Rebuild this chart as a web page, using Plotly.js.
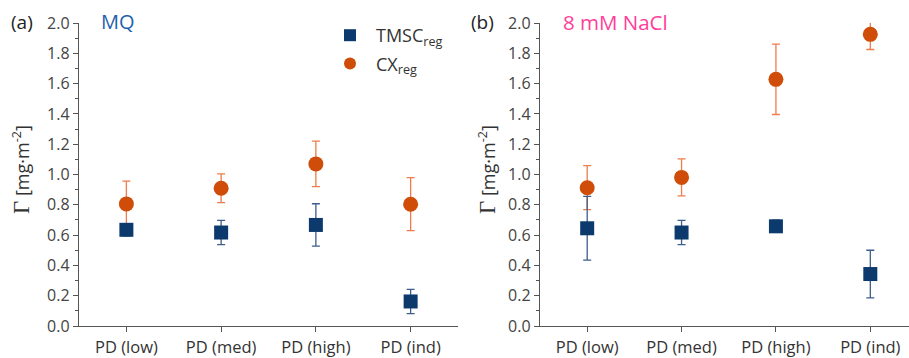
<!DOCTYPE html>
<html>
<head>
<meta charset="utf-8">
<script src="https://cdn.plot.ly/plotly-3.0.1.min.js"></script>
<style>html,body{margin:0;padding:0;background:#fff}#plot{width:909px;height:358px}</style>
</head>
<body>
<div id="plot"></div>
<script>
const categories = ['PD (low)', 'PD (med)', 'PD (high)', 'PD (ind)'];
const tmscMQ = [0.635, 0.617, 0.667, 0.162];
const tmscMQErr = [0.04, 0.08, 0.14, 0.08];
const cxMQ = [0.806, 0.909, 1.07, 0.804];
const cxMQErr = [0.15, 0.095, 0.15, 0.175];
const tmscNaCl = [0.645, 0.617, 0.658, 0.343];
const tmscNaClErr = [0.21, 0.08, 0.04, 0.157];
const cxNaCl = [0.913, 0.981, 1.628, 1.925];
const cxNaClErr = [0.145, 0.122, 0.232, 0.1];
const yTicks = [0, 0.2, 0.4, 0.6, 0.8, 1.0, 1.2, 1.4, 1.6, 1.8, 2.0];

const navy = '#0c3a6d', navyErr = '#3d5d8c';
const orange = '#cf4d08', orangeErr = '#ee7c4c';
const fontFam = '"Open Sans", "DejaVu Sans", sans-serif';

function cx(y, err, xa, ya, show) {
  return {type:'scatter', mode:'markers', x:categories, y:y, xaxis:xa, yaxis:ya, cliponaxis:false,
    name:'CX<sub>reg</sub>', showlegend:show, legendrank:2, legendgroup:'cx',
    marker:{symbol:'circle', size:15, color:orange},
    error_y:{type:'data', array:err, visible:true, color:orangeErr, thickness:1.3, width:4}};
}
function tm(y, err, xa, ya, show) {
  return {type:'scatter', mode:'markers', x:categories, y:y, xaxis:xa, yaxis:ya, cliponaxis:false,
    name:'TMSC<sub>reg</sub>', showlegend:show, legendrank:1, legendgroup:'tm',
    marker:{symbol:'square', size:14, color:navy},
    error_y:{type:'data', array:err, visible:true, color:navyErr, thickness:1.3, width:4}};
}
const data = [
  cx(cxMQ, cxMQErr, 'x', 'y', true),
  tm(tmscMQ, tmscMQErr, 'x', 'y', true),
  cx(cxNaCl, cxNaClErr, 'x2', 'y2', false),
  tm(tmscNaCl, tmscNaClErr, 'x2', 'y2', false)
];

const W = 909, H = 358;
const yDom = [(H - 326) / H, (H - 23) / H];
function xax(dom, range) {
  return {domain:dom, range:range, type:'category', showgrid:false, zeroline:false,
    showline:true, linecolor:'#555', linewidth:1.2, ticks:'outside', ticklen:5, tickcolor:'#555',
    ticklabelstandoff:1,
    tickfont:{family:fontFam, size:16.5, color:'#333'}, fixedrange:true};
}
function yax(anchor) {
  return {domain:yDom, range:[0, 2.0], anchor:anchor, tickvals:yTicks, ticktext:yTicks.map(v=>v.toFixed(1)),
    showgrid:false, zeroline:false, showline:true, linecolor:'#555', linewidth:1.2,
    ticks:'outside', ticklen:5, tickcolor:'#555',
    minor:{dtick:0.1, tick0:0, ticks:'outside', ticklen:3, tickcolor:'#555'},
    tickfont:{family:fontFam, size:16, color:'#444'}, fixedrange:true};
}
const gammaTitle = '<span style="font-family:\'Liberation Serif\',serif;font-size:23px">Γ</span> [mg·m<sup>-2</sup>]';
const layout = {
  width:W, height:H, margin:{l:0, r:0, t:0, b:0},
  paper_bgcolor:'#fff', plot_bgcolor:'#fff',
  xaxis: xax([79/W, 458/W], [-0.5, 3.5]),
  xaxis2: xax([540/W, 1], [-0.5, 3.41]),
  yaxis: yax('x'),
  yaxis2: yax('x2'),
  showlegend:true,
  legend:{x:324/W, y:(H-17)/H, xanchor:'left', yanchor:'top', bgcolor:'rgba(0,0,0,0)',
    font:{family:fontFam, size:18, color:'#333'}, traceorder:'grouped', tracegroupgap:2,
    itemwidth:42, itemsizing:'constant'},
  annotations:[
    {text:'(a)', x:9/W, y:(H-22)/H, xref:'paper', yref:'paper', xanchor:'left', yanchor:'middle', showarrow:false,
      font:{family:fontFam, size:19, color:'#222'}},
    {text:'MQ', x:99/W, y:(H-22)/H, xref:'paper', yref:'paper', xanchor:'left', yanchor:'middle', showarrow:false,
      font:{family:fontFam, size:20, color:'#1f5fae'}},
    {text:'(b)', x:469/W, y:(H-22)/H, xref:'paper', yref:'paper', xanchor:'left', yanchor:'middle', showarrow:false,
      font:{family:fontFam, size:19, color:'#222'}},
    {text:'8 mM NaCl', x:561/W, y:(H-22)/H, xref:'paper', yref:'paper', xanchor:'left', yanchor:'middle', showarrow:false,
      font:{family:fontFam, size:20.5, color:'#ff3d9a'}},
    {text:gammaTitle, x:21/W, y:(H-170)/H, xref:'paper', yref:'paper', xanchor:'center', yanchor:'middle', showarrow:false,
      textangle:-90, font:{family:fontFam, size:18, color:'#333'}},
    {text:gammaTitle, x:487/W, y:(H-170)/H, xref:'paper', yref:'paper', xanchor:'center', yanchor:'middle', showarrow:false,
      textangle:-90, font:{family:fontFam, size:18, color:'#333'}}
  ]
};
Plotly.newPlot('plot', data, layout, {displayModeBar:false, staticPlot:true});
</script>
</body>
</html>
